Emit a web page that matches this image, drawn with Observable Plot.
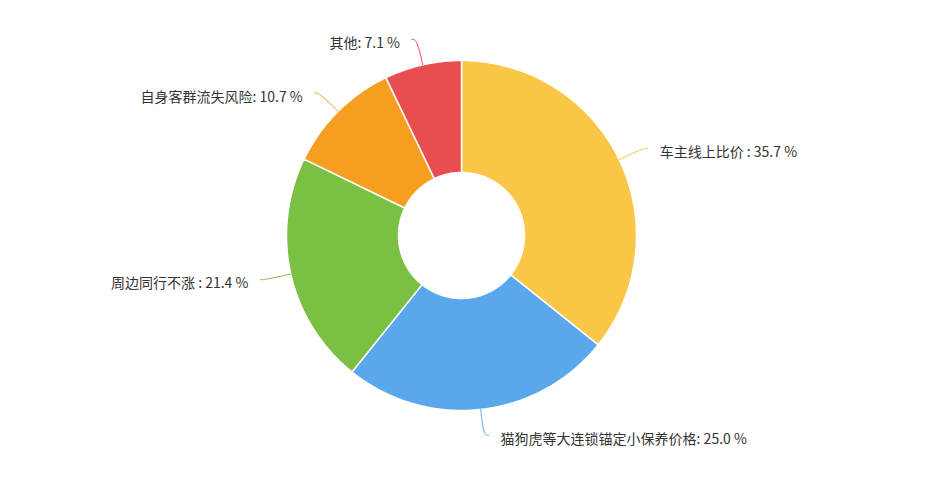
<!DOCTYPE html>
<html><head><meta charset="utf-8">
<script src="https://cdn.jsdelivr.net/npm/d3@7"></script>
<script src="https://cdn.jsdelivr.net/npm/@observablehq/plot@0.6"></script>
<style>body{margin:0;background:#fff} svg{display:block} #chart{width:936px;height:488px}</style>
</head><body><div id="chart"></div>
<script>
const categories = ["车主线上比价", "猫狗虎等大连锁锚定小保养价格", "周边同行不涨", "自身客群流失风险", "其他"];
const values = [35.7, 25.0, 21.4, 10.7, 7.1];
const separators = [" : ", ": ", " : ", ": ", ": "];
const colors = ["#FAC646", "#5AA8EB", "#7AC043", "#F59E1F", "#E84E4F"];

const W = 936, H = 488, cx = 461, cy = 235, R = 175, r0 = 63;
const L1 = 26, L2 = 5, gap = 12;

const data = categories.map((c, i) => ({key: c, value: values[i], sep: separators[i]}));
const arcs = d3.pie().sort(null).value(d => d.value)(data);
const pt = (a, rad) => [cx + rad * Math.sin(a), cy - rad * Math.cos(a)];

const slicePts = [];
const leaderPts = [];
const labels = [];
for (const a of arcs) {
  const key = a.data.key;
  const n = Math.max(8, Math.ceil((a.endAngle - a.startAngle) * 60));
  const ring = [];
  for (let k = 0; k <= n; k++) ring.push(pt(a.startAngle + (a.endAngle - a.startAngle) * k / n, R));
  for (let k = n; k >= 0; k--) ring.push(pt(a.startAngle + (a.endAngle - a.startAngle) * k / n, r0));
  ring.push(ring[0]);
  for (const [x, y] of ring) slicePts.push({key, x, y});

  const mid = (a.startAngle + a.endAngle) / 2;
  const right = Math.sin(mid) >= 0;
  const p0 = pt(mid, R), p1 = pt(mid, R + L1);
  const p2 = [p1[0] + (right ? L2 : -L2), p1[1]];
  for (const [x, y] of [p0, p1, p2]) leaderPts.push({key, x, y});
  labels.push({key, x: p2[0] + (right ? gap : -gap), y: p2[1], right,
    text: `${key}${a.data.sep}${a.data.value.toFixed(1)} %`});
}

const chart = Plot.plot({
  width: W, height: H, margin: 0,
  x: {domain: [0, W], range: [0, W], axis: null},
  y: {domain: [0, H], range: [0, H], axis: null},
  color: {domain: categories, range: colors},
  style: {fontFamily: "'Noto Sans CJK SC', 'Noto Sans', sans-serif", background: "#fff"},
  marks: [
    Plot.line(slicePts, {x: "x", y: "y", z: "key", fill: "key", stroke: "#fff", strokeWidth: 1.5, strokeLinejoin: "round"}),
    Plot.line(leaderPts, {x: "x", y: "y", z: "key", stroke: "key", strokeWidth: 1, curve: "basis"}),
    Plot.text(labels.filter(d => d.right), {x: "x", y: "y", text: "text", textAnchor: "start", dy: 4, fontSize: 14, fill: "#333"}),
    Plot.text(labels.filter(d => !d.right), {x: "x", y: "y", text: "text", textAnchor: "end", dy: 4, fontSize: 14, fill: "#333"})
  ]
});
document.getElementById("chart").appendChild(chart);
</script>
</body></html>
